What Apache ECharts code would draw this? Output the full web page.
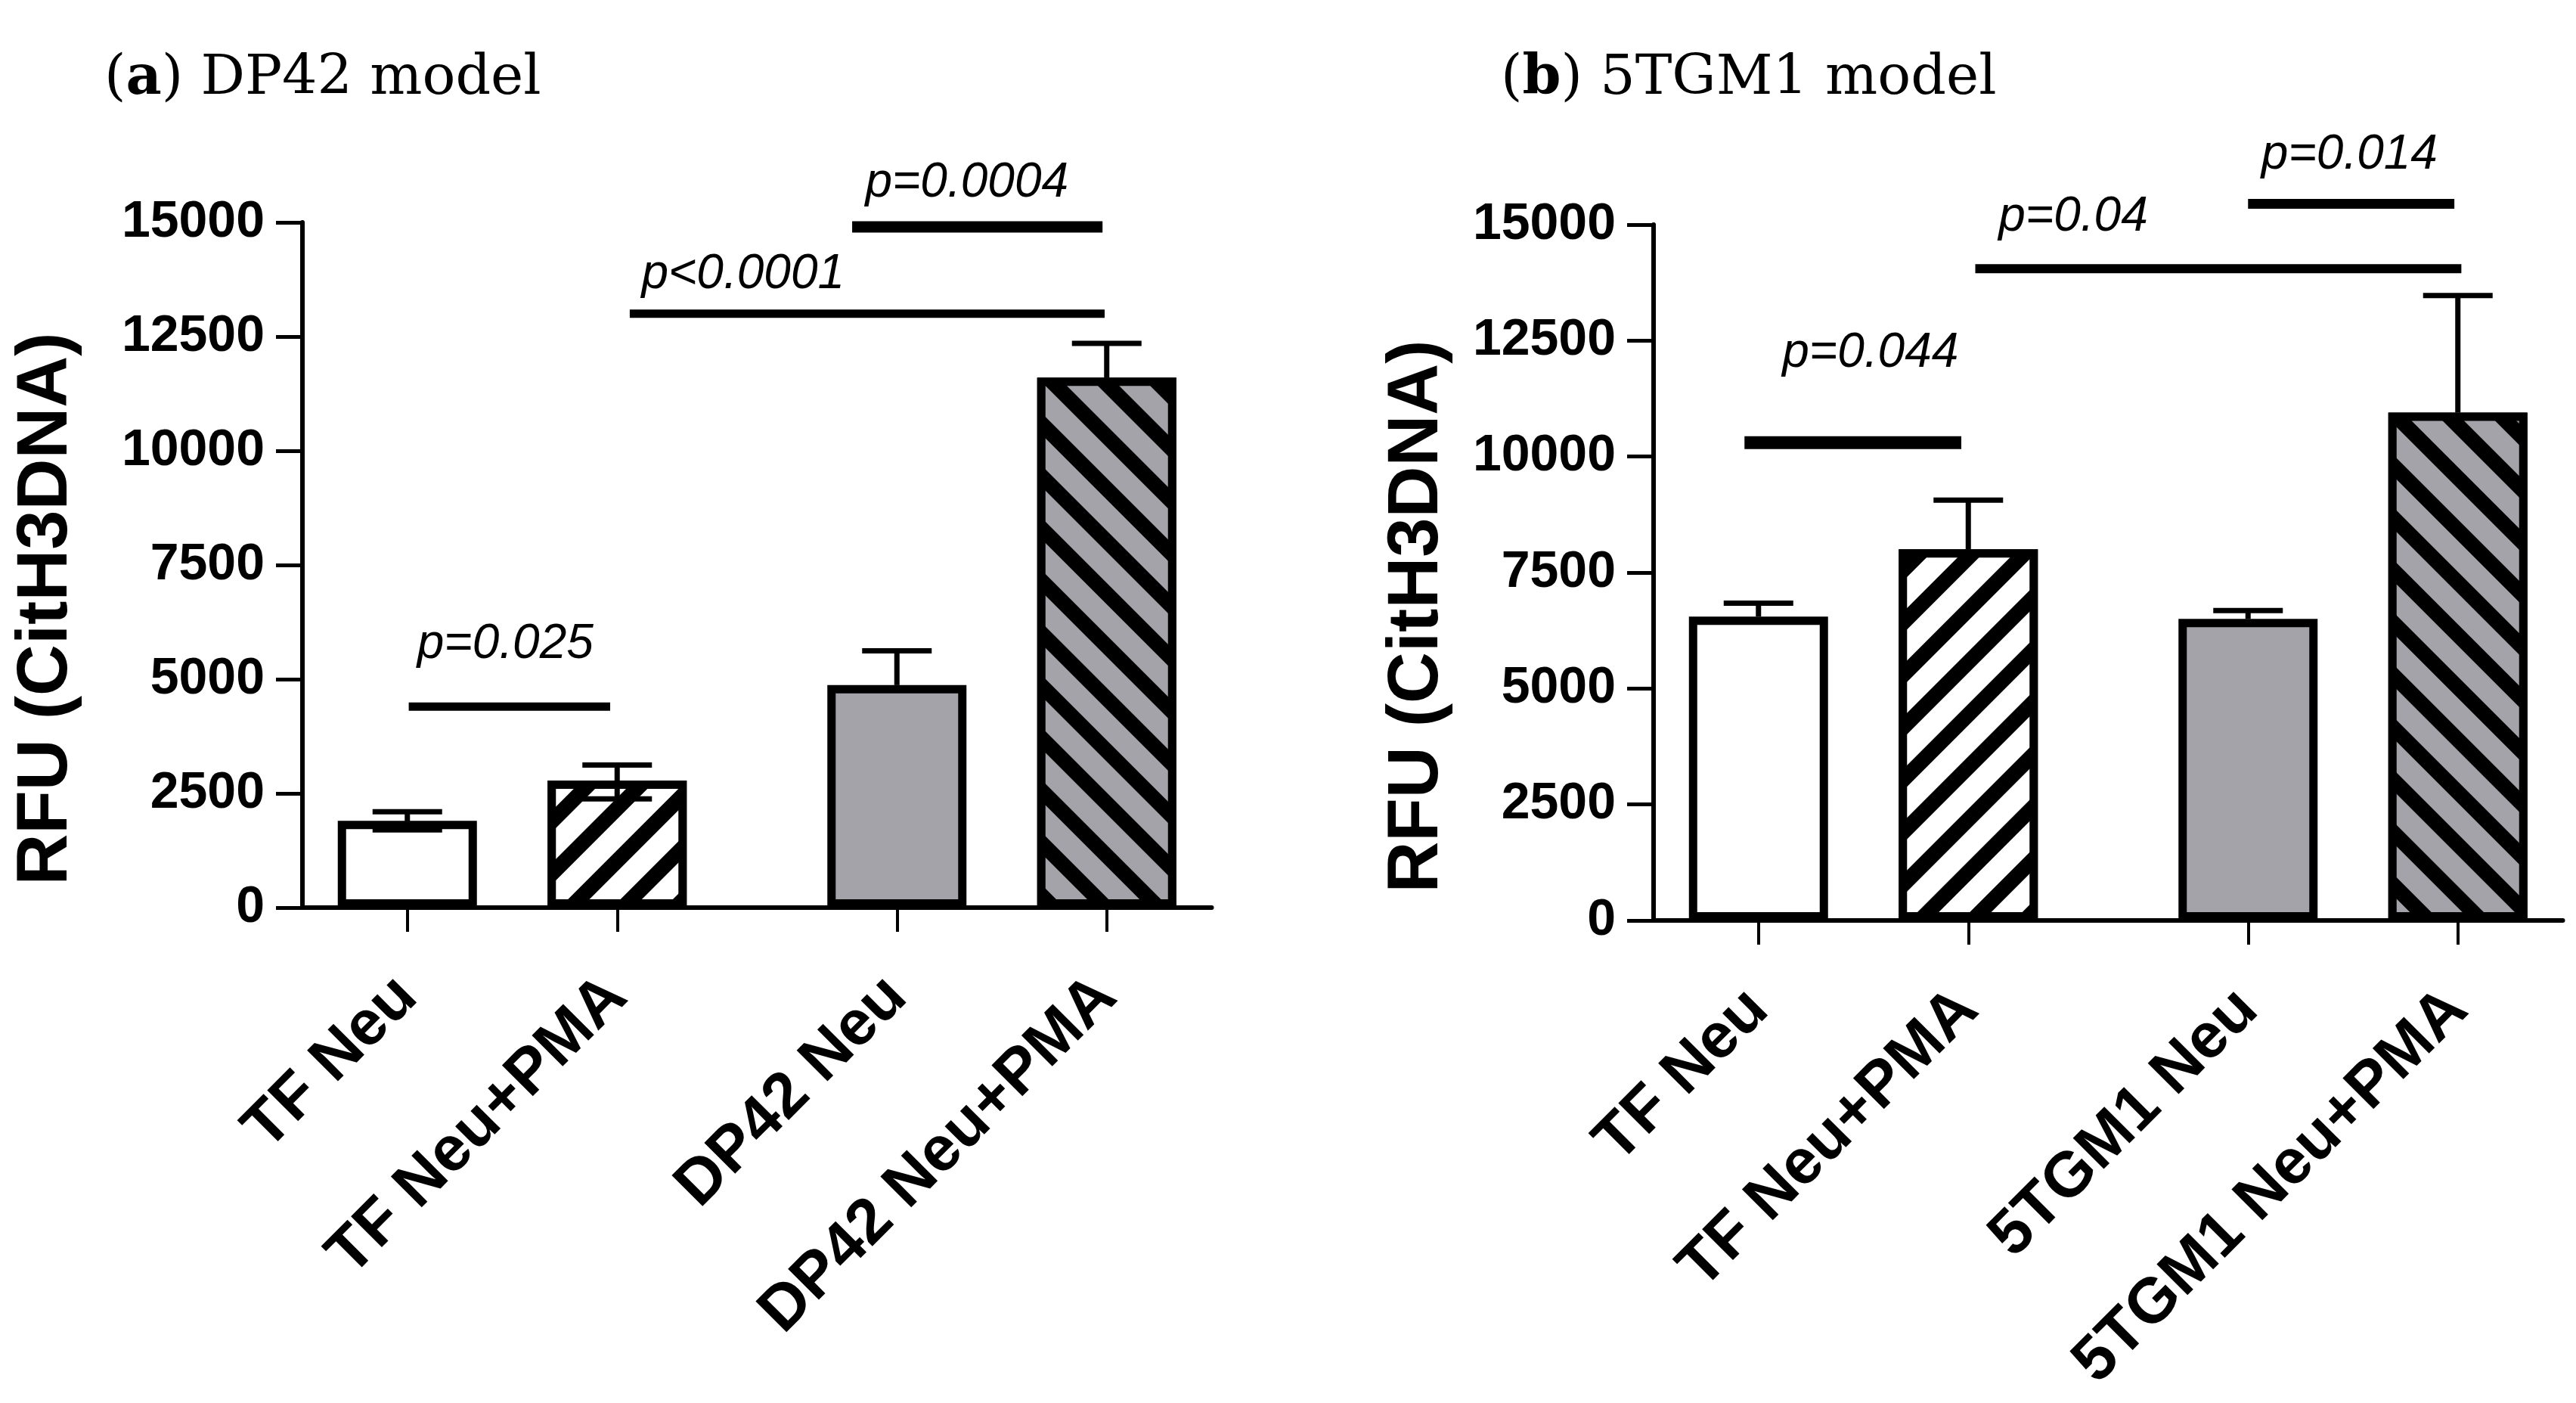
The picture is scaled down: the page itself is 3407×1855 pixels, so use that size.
<!DOCTYPE html>
<html>
<head>
<meta charset="utf-8">
<script src="https://cdn.jsdelivr.net/npm/echarts@6/dist/echarts.min.js"></script>
<style>
  html, body { margin: 0; padding: 0; background: #fff; }
  #chart { width: 3407px; height: 1855px; }
</style>
</head>
<body>
<div id="chart"></div>
<script>
// panel (a) DP42 model
var catsA = ['TF Neu', 'TF Neu+PMA', 'DP42 Neu', 'DP42 Neu+PMA'];
var meanA = [1900, 2780, 4870, 11600];
var errUpA = [200, 340, 750, 750];
var errDownA = [200, 400, 0, 0];

// panel (b) 5TGM1 model
var catsB = ['TF Neu', 'TF Neu+PMA', '5TGM1 Neu', '5TGM1 Neu+PMA'];
var meanB = [6550, 8000, 6500, 10950];
var errUpB = [290, 1060, 180, 2520];
var errDownB = [0, 0, 0, 0];

var yMin = 0, yMax = 15000, yStep = 2500;

// significance bars, x in slot units
var sigTextA = ['p=0.025', 'p<0.0001', 'p=0.0004'];
var sigFromA = [1.02, 4.18, 7.36];
var sigToA = [3.9, 10.97, 10.94];
var sigYA = [4400, 13000, 14900];
var sigTextXA = [2.4, 5.8, 9.0];
var sigTextYA = [5750, 13850, 15850];

var sigTextB = ['p=0.044', 'p=0.04', 'p=0.014'];
var sigFromB = [0.8, 4.1, 8.0];
var sigToB = [3.9, 11.05, 10.95];
var sigYB = [10300, 14050, 15450];
var sigTextXB = [2.6, 5.5, 9.45];
var sigTextYB = [12220, 15160, 16500];

// layout: the 4 bars sit in slots of a 13 slot band axis (gap between pairs)
var slotPos = [1, 4, 8, 11];
var slotCount = 13;
var sigWidthA = [11, 11, 15];
var sigWidthB = [17, 12, 13];

var SANS = '"Liberation Sans", Arial, sans-serif';
var GRAY = '#a4a3aa';

function stripes(rot, bg) {
  return {
    symbol: 'rect', symbolSize: 1, color: '#000', backgroundColor: bg,
    dashArrayX: [1, 0], dashArrayY: [20, 29], rotation: rot
  };
}

var barStyles = [
  { color: '#fff' },
  { color: '#fff', decal: stripes(-Math.PI / 4, '#fff') },
  { color: GRAY },
  { color: GRAY, decal: stripes(Math.PI / 4, GRAY) }
];

function slotNames(cats) {
  var out = [];
  for (var i = 0; i < slotCount; i++) out.push('');
  slotPos.forEach(function (s, i) { out[s] = cats[i]; });
  return out;
}

function barData(means) {
  var out = [];
  for (var i = 0; i < slotCount; i++) out.push('-');
  slotPos.forEach(function (s, i) {
    out[s] = {
      value: means[i],
      itemStyle: Object.assign({ borderColor: '#000', borderWidth: 11 }, barStyles[i])
    };
  });
  return out;
}

function errData(means, up, dn) {
  return slotPos.map(function (s, i) { return [s, means[i], up[i], dn[i]]; });
}

function sigData(from, to, y, tx, ty) {
  return from.map(function (f, i) { return [0, y[i], f, to[i], tx[i], ty[i]]; });
}

function renderErr(params, api) {
  var x = api.value(0), m = api.value(1), up = api.value(2), dn = api.value(3);
  var pm = api.coord([x, m]);
  var pu = api.coord([x, m + up]);
  var hw = 46;
  var st = { stroke: '#000', lineWidth: 7 };
  var kids = [
    { type: 'line', shape: { x1: pm[0], y1: pm[1], x2: pu[0], y2: pu[1] }, style: st },
    { type: 'line', shape: { x1: pu[0] - hw, y1: pu[1], x2: pu[0] + hw, y2: pu[1] }, style: st }
  ];
  if (dn > 0) {
    var pd = api.coord([x, m - dn]);
    kids.push({ type: 'line', shape: { x1: pm[0], y1: pm[1], x2: pd[0], y2: pd[1] }, style: st });
    kids.push({ type: 'line', shape: { x1: pd[0] - hw, y1: pd[1], x2: pd[0] + hw, y2: pd[1] }, style: st });
  }
  return { type: 'group', children: kids };
}

function makeSigRender(texts, widths) {
  return function (params, api) {
    var i = params.dataIndex;
    var c0 = api.coord([0, api.value(1)]);
    var bw = api.size([1, 0])[0];
    var x1 = c0[0] + api.value(2) * bw;
    var x2 = c0[0] + api.value(3) * bw;
    var tx = c0[0] + api.value(4) * bw;
    var ty = api.coord([0, api.value(5)])[1];
    return {
      type: 'group',
      children: [
        { type: 'line', shape: { x1: x1, y1: c0[1], x2: x2, y2: c0[1] },
          style: { stroke: '#000', lineWidth: widths[i], lineCap: 'butt' } },
        { type: 'text', x: tx, y: ty,
          style: { text: texts[i], fill: '#000', fontSize: 64, fontStyle: 'italic',
                   fontFamily: SANS, align: 'center', verticalAlign: 'middle' } }
      ]
    };
  };
}

function xAxisFor(gi, cats) {
  return {
    type: 'category', gridIndex: gi, data: slotNames(cats),
    axisLine: { lineStyle: { color: '#000', width: 6 } },
    axisTick: { show: true, alignWithLabel: true, length: 32,
      interval: function (idx, val) { return val !== ''; },
      lineStyle: { color: '#000', width: 4 } },
    axisLabel: { interval: 0, rotate: 45, margin: 105, color: '#000',
      fontFamily: SANS, fontWeight: 'bold', fontSize: 84 },
    splitLine: { show: false }
  };
}

function yAxisFor(gi, gap) {
  return {
    type: 'value', gridIndex: gi, min: yMin, max: yMax, interval: yStep,
    name: 'RFU (CitH3DNA)', nameLocation: 'middle', nameGap: gap,
    nameTextStyle: { color: '#000', fontFamily: SANS, fontWeight: 'bold', fontSize: 94,
      padding: [0, 116, 0, 0] },
    axisLine: { show: true, lineStyle: { color: '#000', width: 6 } },
    axisTick: { show: true, length: 35, lineStyle: { color: '#000', width: 5 } },
    axisLabel: { margin: 50, color: '#000', fontFamily: SANS, fontWeight: 'bold', fontSize: 68,
      formatter: function (v) { return String(v); } },
    splitLine: { show: false }
  };
}

var chart = echarts.init(document.getElementById('chart'));

var titleStyle = {
  fontFamily: 'DejaVu Serif', fontSize: 73, fontWeight: 'normal', color: '#000',
  rich: { b: { fontFamily: 'DejaVu Serif', fontSize: 73, fontWeight: 'bold', color: '#000' } }
};

var option = {
  backgroundColor: '#fff',
  animation: false,
  title: [
    { text: '({b|a}) DP42 model', left: 133, top: 64, textStyle: titleStyle },
    { text: '({b|b}) 5TGM1 model', left: 1980, top: 64, textStyle: titleStyle }
  ],
  grid: [
    { left: 400, top: 294, width: 1202.5, height: 906 },
    { left: 2187, top: 297, width: 1202.5, height: 920 }
  ],
  xAxis: [xAxisFor(0, catsA), xAxisFor(1, catsB)],
  yAxis: [yAxisFor(0, 291), yAxisFor(1, 265)],
  series: [
    { type: 'bar', xAxisIndex: 0, yAxisIndex: 0, barWidth: 184, z: 2, data: barData(meanA) },
    { type: 'bar', xAxisIndex: 1, yAxisIndex: 1, barWidth: 184, z: 2, data: barData(meanB) },
    { type: 'custom', xAxisIndex: 0, yAxisIndex: 0, z: 5, clip: false,
      encode: { x: 0, y: 1 }, renderItem: renderErr, data: errData(meanA, errUpA, errDownA) },
    { type: 'custom', xAxisIndex: 1, yAxisIndex: 1, z: 5, clip: false,
      encode: { x: 0, y: 1 }, renderItem: renderErr, data: errData(meanB, errUpB, errDownB) },
    { type: 'custom', xAxisIndex: 0, yAxisIndex: 0, z: 6, clip: false,
      encode: { x: 0, y: 1 }, renderItem: makeSigRender(sigTextA, sigWidthA),
      data: sigData(sigFromA, sigToA, sigYA, sigTextXA, sigTextYA) },
    { type: 'custom', xAxisIndex: 1, yAxisIndex: 1, z: 6, clip: false,
      encode: { x: 0, y: 1 }, renderItem: makeSigRender(sigTextB, sigWidthB),
      data: sigData(sigFromB, sigToB, sigYB, sigTextXB, sigTextYB) }
  ]
};

chart.setOption(option);
window.addEventListener('resize', function () { chart.resize(); });
</script>
</body>
</html>
